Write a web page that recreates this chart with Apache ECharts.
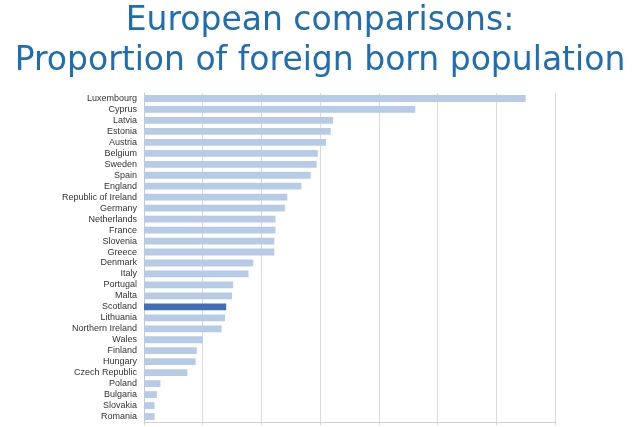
<!DOCTYPE html>
<html>
<head>
<meta charset="utf-8">
<script src="https://cdn.jsdelivr.net/npm/echarts@6/dist/echarts.min.js"></script>
<style>
  html, body { margin: 0; padding: 0; background: #fff; }
  #chart { width: 640px; height: 427px; }
</style>
</head>
<body>
<div id="chart"></div>
<script>
// countries, top to bottom
var countries = [
  "Luxembourg", "Cyprus", "Latvia", "Estonia", "Austria", "Belgium", "Sweden",
  "Spain", "England", "Republic of Ireland", "Germany", "Netherlands", "France",
  "Slovenia", "Greece", "Denmark", "Italy", "Portugal", "Malta", "Scotland",
  "Lithuania", "Northern Ireland", "Wales", "Finland", "Hungary",
  "Czech Republic", "Poland", "Bulgaria", "Slovakia", "Romania"
];
// % foreign born
var foreignBorn = [
  32.5, 23.1, 16.1, 15.9, 15.5, 14.8, 14.7,
  14.2, 13.4, 12.2, 12.0, 11.2, 11.2,
  11.1, 11.1, 9.3, 8.9, 7.6, 7.5, 7.0,
  6.9, 6.6, 5.0, 4.5, 4.4,
  3.7, 1.4, 1.1, 0.9, 0.9
];
var highlight = "Scotland";

var chart = echarts.init(document.getElementById("chart"));

chart.setOption({
  animation: false,
  title: {
    text: "European comparisons:\nProportion of foreign born population",
    left: "center",
    top: -4,
    textStyle: {
      fontFamily: "DejaVu Sans",
      fontSize: 33,
      fontWeight: "normal",
      color: "#1f6db3",
      lineHeight: 40
    }
  },
  grid: { left: 144, right: 85, top: 93, bottom: 5 },
  xAxis: {
    type: "value",
    min: 0,
    max: 35,
    interval: 5,
    axisLabel: { show: false },
    axisLine: { show: true, lineStyle: { color: "#d0d0d0" } },
    axisTick: { show: true, length: 3, lineStyle: { color: "#d0d0d0" } },
    splitLine: { lineStyle: { color: "#dadada" } }
  },
  yAxis: {
    type: "category",
    data: countries,
    inverse: true,
    axisLine: { show: true, lineStyle: { color: "#c8c8c8" } },
    axisTick: { show: false },
    axisLabel: {
      fontFamily: "Liberation Sans",
      fontSize: 9,
      color: "#333",
      margin: 7,
      interval: 0
    }
  },
  series: [{
    type: "bar",
    barWidth: "62%",
    data: foreignBorn.map(function (v, i) {
      return {
        value: v,
        itemStyle: { color: countries[i] === highlight ? "#3f6fb8" : "#b8cbe6" }
      };
    })
  }]
});
</script>
</body>
</html>
